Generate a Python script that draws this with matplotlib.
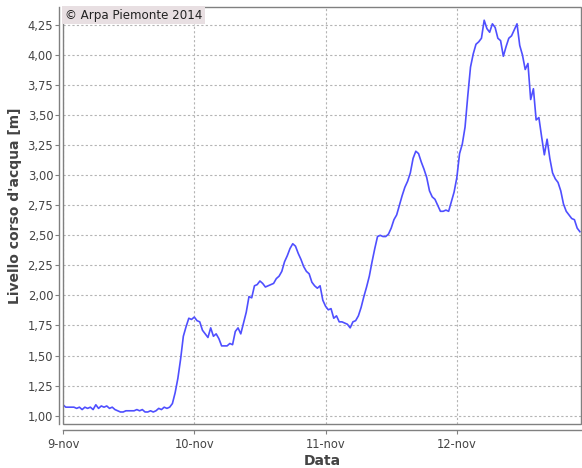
import matplotlib
matplotlib.use("Agg")
import matplotlib.pyplot as plt
import matplotlib.patches as mpatches
import pandas as pd

# Livello idrometrico, campioni ogni 30 minuti dal 9-nov 00:00
start = "2014-11-09 00:00"
levels = [
    # 9-nov 00:00 - 19:30
    1.09, 1.07, 1.07, 1.07, 1.07, 1.06, 1.07, 1.05, 1.07, 1.06,
    1.07, 1.05, 1.09, 1.06, 1.08, 1.07, 1.08, 1.06, 1.07, 1.05,
    1.04, 1.03, 1.03, 1.04, 1.04, 1.04, 1.04, 1.05, 1.04, 1.05,
    1.03, 1.03, 1.04, 1.03, 1.04, 1.06, 1.05, 1.07, 1.06, 1.07,
    # 9-nov 20:00 - 23:30
    1.10, 1.19, 1.31, 1.47, 1.66, 1.74, 1.81, 1.80,
    # 10-nov
    1.82, 1.79, 1.78, 1.71, 1.68, 1.65, 1.73, 1.66, 1.68, 1.64,
    1.58, 1.58, 1.58, 1.60, 1.59, 1.70, 1.73, 1.68, 1.77, 1.86,
    1.99, 1.98, 2.08, 2.09,
    2.12, 2.10, 2.07, 2.08, 2.09, 2.10, 2.14, 2.16, 2.20, 2.28,
    2.33, 2.39, 2.43, 2.41, 2.35, 2.30, 2.24, 2.20, 2.18, 2.11,
    2.08, 2.06, 2.08, 1.96,
    # 11-nov
    1.91, 1.88, 1.89, 1.81, 1.83, 1.78, 1.78, 1.77, 1.76, 1.73,
    1.78, 1.79, 1.83, 1.90, 1.99, 2.07, 2.16, 2.28, 2.39, 2.49,
    2.50, 2.49, 2.49, 2.51,
    2.56, 2.63, 2.67, 2.75, 2.83, 2.90, 2.95, 3.02, 3.14, 3.20,
    3.18, 3.11, 3.05, 2.98, 2.87, 2.82, 2.80, 2.75, 2.70, 2.70,
    2.71, 2.70, 2.78, 2.86,
    # 12-nov
    2.98, 3.18, 3.26, 3.40, 3.66, 3.90, 4.01, 4.09, 4.11, 4.14,
    4.29, 4.22, 4.19, 4.26, 4.23, 4.14, 4.12, 3.99, 4.07, 4.14,
    4.16, 4.21, 4.26, 4.08,
    4.00, 3.88, 3.93, 3.63, 3.72, 3.46, 3.48, 3.32, 3.17, 3.30,
    3.14, 3.02, 2.97, 2.94, 2.87, 2.76, 2.70, 2.67, 2.64, 2.63,
    2.56, 2.53,
]

day_ticks = ["2014-11-09", "2014-11-10", "2014-11-11", "2014-11-12"]
day_labels = ["9-nov", "10-nov", "11-nov", "12-nov"]
y_ticks = [1.00, 1.25, 1.50, 1.75, 2.00, 2.25, 2.50, 2.75,
           3.00, 3.25, 3.50, 3.75, 4.00, 4.25]

times = pd.date_range(start, periods=len(levels), freq="30min")

GRAY = "#808080"
TEXT = "#444444"

fig = plt.figure(figsize=(5.82, 4.68), dpi=100)
ax = fig.add_axes([63 / 582, 44 / 468, 518 / 582, 417 / 468])

ax.plot(times, levels, color="#4f4fff", lw=1.2)

ax.set_xlim(pd.Timestamp(start), pd.Timestamp(start) + pd.Timedelta(hours=94.7))
ax.set_ylim(0.93, 4.40)

ax.set_xticks(pd.to_datetime(day_ticks))
ax.set_xticklabels(day_labels)
ax.set_yticks(y_ticks)
ax.set_yticklabels([f"{v:.2f}".replace(".", ",") for v in y_ticks])

ax.grid(True, color="#b4b4b4", lw=0.8, linestyle=(0, (2, 2)))
ax.tick_params(axis="both", colors=GRAY, labelcolor=TEXT, labelsize=8.3,
               length=3, width=0.8)
ax.tick_params(axis="y", pad=1)
ax.tick_params(axis="x", pad=3)

# axis lines sit a few pixels away from the plot outline
for side in ("top", "right"):
    ax.spines[side].set_visible(False)
ax.spines["bottom"].set_position(("outward", 4))
ax.spines["left"].set_position(("outward", 3))
for side in ("bottom", "left"):
    ax.spines[side].set_color(GRAY)
    ax.spines[side].set_linewidth(1.0)
ax.add_patch(mpatches.Rectangle((0, 0), 1, 1, transform=ax.transAxes,
                                fill=False, edgecolor=GRAY, lw=1.0,
                                clip_on=False, zorder=5))

ax.set_xlabel("Data", fontsize=10, fontweight="bold", color=TEXT, labelpad=2)
ax.set_ylabel("Livello corso d'acqua [m]", fontsize=10, fontweight="bold",
              color=TEXT)
ax.yaxis.set_label_coords(-0.08, 0.523)

ax.text(0.004, 0.996, "© Arpa Piemonte 2014", transform=ax.transAxes,
        ha="left", va="top", fontsize=8.6, color="#222222", zorder=6,
        bbox=dict(boxstyle="square,pad=0.22", facecolor="#e8dfe2",
                  edgecolor="none"))

fig.savefig("out.png", dpi=100)
